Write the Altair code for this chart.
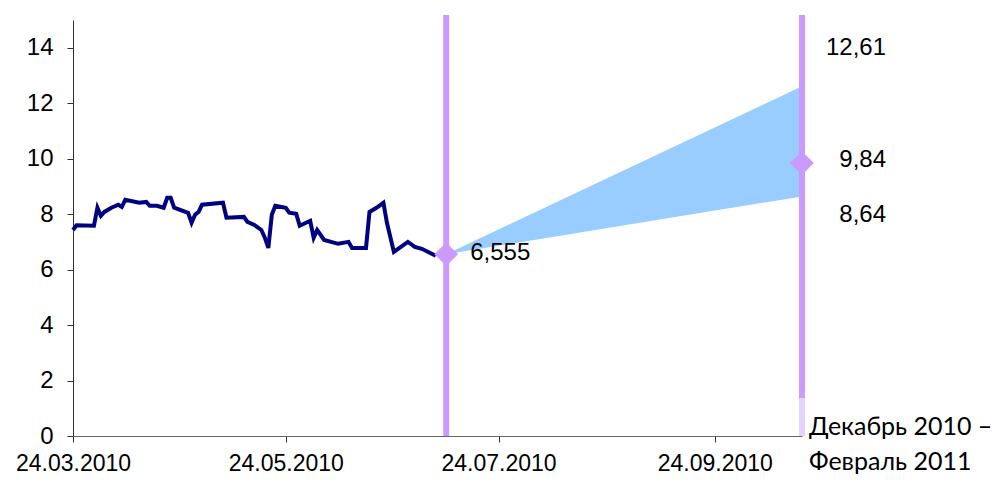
import altair as alt
import pandas as pd

# Historical series
dates = ["2010-03-24", "2010-03-25", "2010-03-30", "2010-03-31", "2010-04-01", "2010-04-02",
         "2010-04-04", "2010-04-06", "2010-04-07", "2010-04-08", "2010-04-12", "2010-04-14",
         "2010-04-15", "2010-04-17", "2010-04-19", "2010-04-20", "2010-04-21", "2010-04-22",
         "2010-04-26", "2010-04-27", "2010-04-28", "2010-04-29", "2010-04-30", "2010-05-06",
         "2010-05-07", "2010-05-12", "2010-05-13", "2010-05-15", "2010-05-17", "2010-05-18",
         "2010-05-19", "2010-05-20", "2010-05-21", "2010-05-24", "2010-05-25", "2010-05-27",
         "2010-05-28", "2010-05-31", "2010-06-01", "2010-06-02", "2010-06-04", "2010-06-08",
         "2010-06-11", "2010-06-12", "2010-06-16", "2010-06-17", "2010-06-19", "2010-06-21",
         "2010-06-22", "2010-06-24", "2010-06-28", "2010-06-30", "2010-07-02", "2010-07-06"]
values = [7.43, 7.60, 7.58, 8.23, 7.94, 8.08,
          8.23, 8.34, 8.26, 8.52, 8.41, 8.44,
          8.30, 8.30, 8.23, 8.59, 8.59, 8.23,
          8.05, 7.69, 7.98, 8.08, 8.34, 8.41,
          7.87, 7.90, 7.72, 7.61, 7.43, 7.15,
          6.78, 7.98, 8.30, 8.23, 8.05, 8.01,
          7.58, 7.76, 7.15, 7.43, 7.07, 6.93,
          7.00, 6.78, 6.78, 8.08, 8.23, 8.41,
          7.69, 6.64, 7.00, 6.82, 6.75, 6.50]

# Forecast fan
fan_dates = ["2010-07-09", "2010-10-19"]
fan_low = [6.555, 8.64]
fan_high = [6.555, 12.61]

# Markers
marker_dates = ["2010-07-09", "2010-10-19"]
marker_values = [6.555, 9.84]

y_ticks = [0, 2, 4, 6, 8, 10, 12, 14]
period_label = ["Декабрь 2010 –", "Февраль 2011"]

def loc(d):
    return d + "T00:00:00"

hist = pd.DataFrame({"date": [loc(d) for d in dates], "value": values})
fan = pd.DataFrame({"date": [loc(d) for d in fan_dates], "lo": fan_low, "hi": fan_high})
marks = pd.DataFrame({"date": [loc(d) for d in marker_dates], "value": marker_values})

FONT = "Liberation Sans"

xscale = alt.Scale(domain=[alt.DateTime(year=2010, month=3, date=24),
                           alt.DateTime(year=2010, month=10, date=19)])
yscale = alt.Scale(domain=[0, 15])

xaxis = alt.Axis(
    values=[alt.DateTime(year=2010, month=3, date=24), alt.DateTime(year=2010, month=5, date=24),
            alt.DateTime(year=2010, month=7, date=24), alt.DateTime(year=2010, month=9, date=24)],
    format="%d.%m.%Y", title=None, grid=False, tickSize=6, labelPadding=10,
    labelFont=FONT, labelFontSize=23, labelColor="#000", domainColor="#666",
    tickColor="#333", labelFlush=False, labelOverlap=False)
yaxis = alt.Axis(values=y_ticks, title=None, grid=False, tickSize=6, labelPadding=14,
                 labelFont=FONT, labelFontSize=24, labelColor="#000", domainColor="#333",
                 tickColor="#333")

area = alt.Chart(fan).mark_area(color="#99CCFF", opacity=1).encode(
    x=alt.X("date:T", scale=xscale, axis=xaxis),
    y=alt.Y("lo:Q", scale=yscale, axis=yaxis),
    y2="hi:Q")

line = alt.Chart(hist).mark_line(color="#000080", strokeWidth=4).encode(
    x=alt.X("date:T", scale=xscale),
    y=alt.Y("value:Q", scale=yscale))

rules = alt.Chart(marks).mark_rule(color="#CC99FF", strokeWidth=6, clip=False).encode(
    x=alt.X("date:T", scale=xscale),
    y=alt.value(-5), y2=alt.value(416))

light = alt.Chart(marks.iloc[1:]).mark_rule(color="#E6D2FF", strokeWidth=6, clip=False).encode(
    x=alt.X("date:T", scale=xscale),
    y=alt.value(378), y2=alt.value(416))

pts = alt.Chart(marks).mark_point(shape="diamond", filled=True, color="#CC99FF",
                                  opacity=1, size=560).encode(
    x=alt.X("date:T", scale=xscale),
    y=alt.Y("value:Q", scale=yscale))

lab_start = alt.Chart(pd.DataFrame({"date": [loc(marker_dates[0])], "value": [marker_values[0]],
                                    "t": ["6,555"]})).mark_text(
    align="left", baseline="middle", dx=24, dy=-1, font=FONT, fontSize=24, color="#000").encode(
    x=alt.X("date:T", scale=xscale), y=alt.Y("value:Q", scale=yscale), text="t:N")

end_df = pd.DataFrame({"date": [loc(fan_dates[1])] * 3,
                       "value": [fan_high[1], marker_values[1], fan_low[1]],
                       "t": ["12,61", "9,84", "8,64"]})
lab_hi = alt.Chart(end_df.iloc[[0]]).mark_text(
    align="right", baseline="middle", dx=84, dy=-38, font=FONT, fontSize=24, color="#000").encode(
    x=alt.X("date:T", scale=xscale), y=alt.Y("value:Q", scale=yscale), text="t:N")
lab_mid = alt.Chart(end_df.iloc[[1]]).mark_text(
    align="right", baseline="middle", dx=84, dy=-3, font=FONT, fontSize=24, color="#000").encode(
    x=alt.X("date:T", scale=xscale), y=alt.Y("value:Q", scale=yscale), text="t:N")
lab_lo = alt.Chart(end_df.iloc[[2]]).mark_text(
    align="right", baseline="middle", dx=84, dy=19, font=FONT, fontSize=24, color="#000").encode(
    x=alt.X("date:T", scale=xscale), y=alt.Y("value:Q", scale=yscale), text="t:N")

period = alt.Chart(marks.iloc[1:]).mark_text(
    text=period_label, align="left", baseline="middle", dx=7, lineHeight=35,
    font="Lato", fontSize=25, color="#000", clip=False).encode(
    x=alt.X("date:T", scale=xscale), y=alt.value(407))

chart = alt.layer(area, line, rules, light, pts, lab_start, lab_hi, lab_mid, lab_lo, period).properties(
    width=729, height=416,
    autosize=alt.AutoSizeParams(type="none"),
    padding={"left": 65, "top": 12, "right": 195, "bottom": 41},
).configure_view(stroke=None)

chart.save("out.html", embed_options={"renderer": "svg", "actions": False})
